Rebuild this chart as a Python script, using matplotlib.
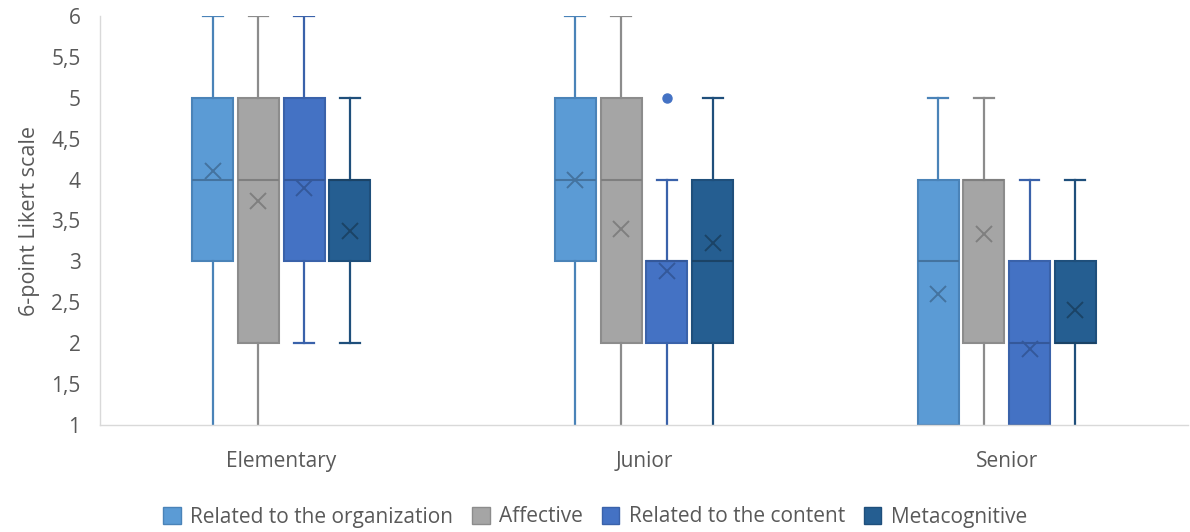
import matplotlib
matplotlib.use("Agg")
import matplotlib.pyplot as plt
from matplotlib.patches import Patch

plt.rcParams['font.family'] = ['Open Sans', 'DejaVu Sans']

categories = ["Elementary", "Junior", "Senior"]
series = ["Related to the organization", "Affective", "Related to the content", "Metacognitive"]

# five-number summaries per series, one entry per category
whisker_low = {
    "Related to the organization": [1, 1, 1],
    "Affective": [1, 1, 1],
    "Related to the content": [2, 1, 1],
    "Metacognitive": [2, 1, 1],
}
q1 = {
    "Related to the organization": [3, 3, 1],
    "Affective": [2, 2, 2],
    "Related to the content": [3, 2, 1],
    "Metacognitive": [3, 2, 2],
}
median = {
    "Related to the organization": [4, 4, 3],
    "Affective": [4, 4, 4],
    "Related to the content": [4, 3, 2],
    "Metacognitive": [4, 3, 2],
}
q3 = {
    "Related to the organization": [5, 5, 4],
    "Affective": [5, 5, 4],
    "Related to the content": [5, 3, 3],
    "Metacognitive": [4, 4, 3],
}
whisker_high = {
    "Related to the organization": [6, 6, 5],
    "Affective": [6, 6, 5],
    "Related to the content": [6, 4, 4],
    "Metacognitive": [5, 5, 4],
}
means = {
    "Related to the organization": [4.10, 4.00, 2.60],
    "Affective": [3.74, 3.39, 3.34],
    "Related to the content": [3.90, 2.88, 1.93],
    "Metacognitive": [3.37, 3.22, 2.40],
}
outliers = {
    "Related to the organization": [[], [], []],
    "Affective": [[], [], []],
    "Related to the content": [[], [5], []],
    "Metacognitive": [[], [], []],
}

y_ticks = [1, 1.5, 2, 2.5, 3, 3.5, 4, 4.5, 5, 5.5, 6]

fill_colors = ["#5B9BD5", "#A5A5A5", "#4472C4", "#255E91"]
edge_colors = ["#4A83B8", "#8C8C8C", "#3A62AA", "#1F4F7B"]
mark_colors = ["#44739F", "#7F7F7F", "#34589A", "#1B4366"]

fig = plt.figure(figsize=(11.9, 5.32), dpi=100)
ax = fig.add_axes([100 / 1190, 107 / 532, 1088 / 1190, 409 / 532])

spacing = 0.126
box_w = 0.113
text_color = "#595959"
y_min, y_max = y_ticks[0], y_ticks[-1]

for si, name in enumerate(series):
    offset = (si - 1.5) * spacing
    stats = []
    for ci in range(len(categories)):
        stats.append(dict(
            whislo=whisker_low[name][ci], q1=q1[name][ci], med=median[name][ci],
            q3=q3[name][ci], whishi=whisker_high[name][ci], mean=means[name][ci],
            fliers=outliers[name][ci],
        ))
    positions = [ci + offset for ci in range(len(categories))]
    parts = ax.bxp(
        stats, positions=positions, widths=box_w, patch_artist=True,
        showmeans=True, showfliers=True,
        boxprops=dict(facecolor=fill_colors[si], edgecolor=edge_colors[si], linewidth=1.5),
        medianprops=dict(color=mark_colors[si], linewidth=1.5),
        whiskerprops=dict(color=edge_colors[si], linewidth=1.6),
        capprops=dict(color=edge_colors[si], linewidth=1.6),
        capwidths=0.055,
        meanprops=dict(marker="x", markeredgecolor=mark_colors[si], markersize=11,
                       markeredgewidth=1.4, linestyle="none"),
        flierprops=dict(marker="o", markerfacecolor=fill_colors[si],
                        markeredgecolor=fill_colors[si], markersize=6.5),
        manage_ticks=False,
    )
    # caps lying on the axis floor are not drawn
    for cap in parts["caps"]:
        if abs(cap.get_ydata()[0] - y_min) < 1e-9:
            cap.set_visible(False)

ax.set_xlim(-0.5, len(categories) - 0.5)
ax.set_ylim(y_min, y_max)
ax.set_xticks(range(len(categories)))
ax.set_xticklabels(categories, fontsize=15, color=text_color)
ax.set_yticks(y_ticks)
ax.set_yticklabels([f"{t:g}".replace(".", ",") for t in y_ticks], fontsize=15, color=text_color)
ax.tick_params(axis="both", length=0)
ax.tick_params(axis="x", pad=19)
ax.tick_params(axis="y", pad=14)

for side in ["top", "right"]:
    ax.spines[side].set_visible(False)
for side in ["left", "bottom"]:
    ax.spines[side].set_color("#D9D9D9")
    ax.spines[side].set_linewidth(1.0)

ax.set_ylabel("6-point Likert scale", fontsize=15.5, color=text_color, labelpad=8)

handles = [Patch(facecolor=fill_colors[i], edgecolor=edge_colors[i], linewidth=1.0, label=series[i])
           for i in range(len(series))]
fig.legend(handles=handles, loc="center", bbox_to_anchor=(0.5, 15 / 532), ncol=4,
           frameon=False, fontsize=15, handlelength=0.85, handleheight=0.85,
           handletextpad=0.45, columnspacing=0.9, labelcolor=text_color)

fig.savefig("out.png", dpi=100)
